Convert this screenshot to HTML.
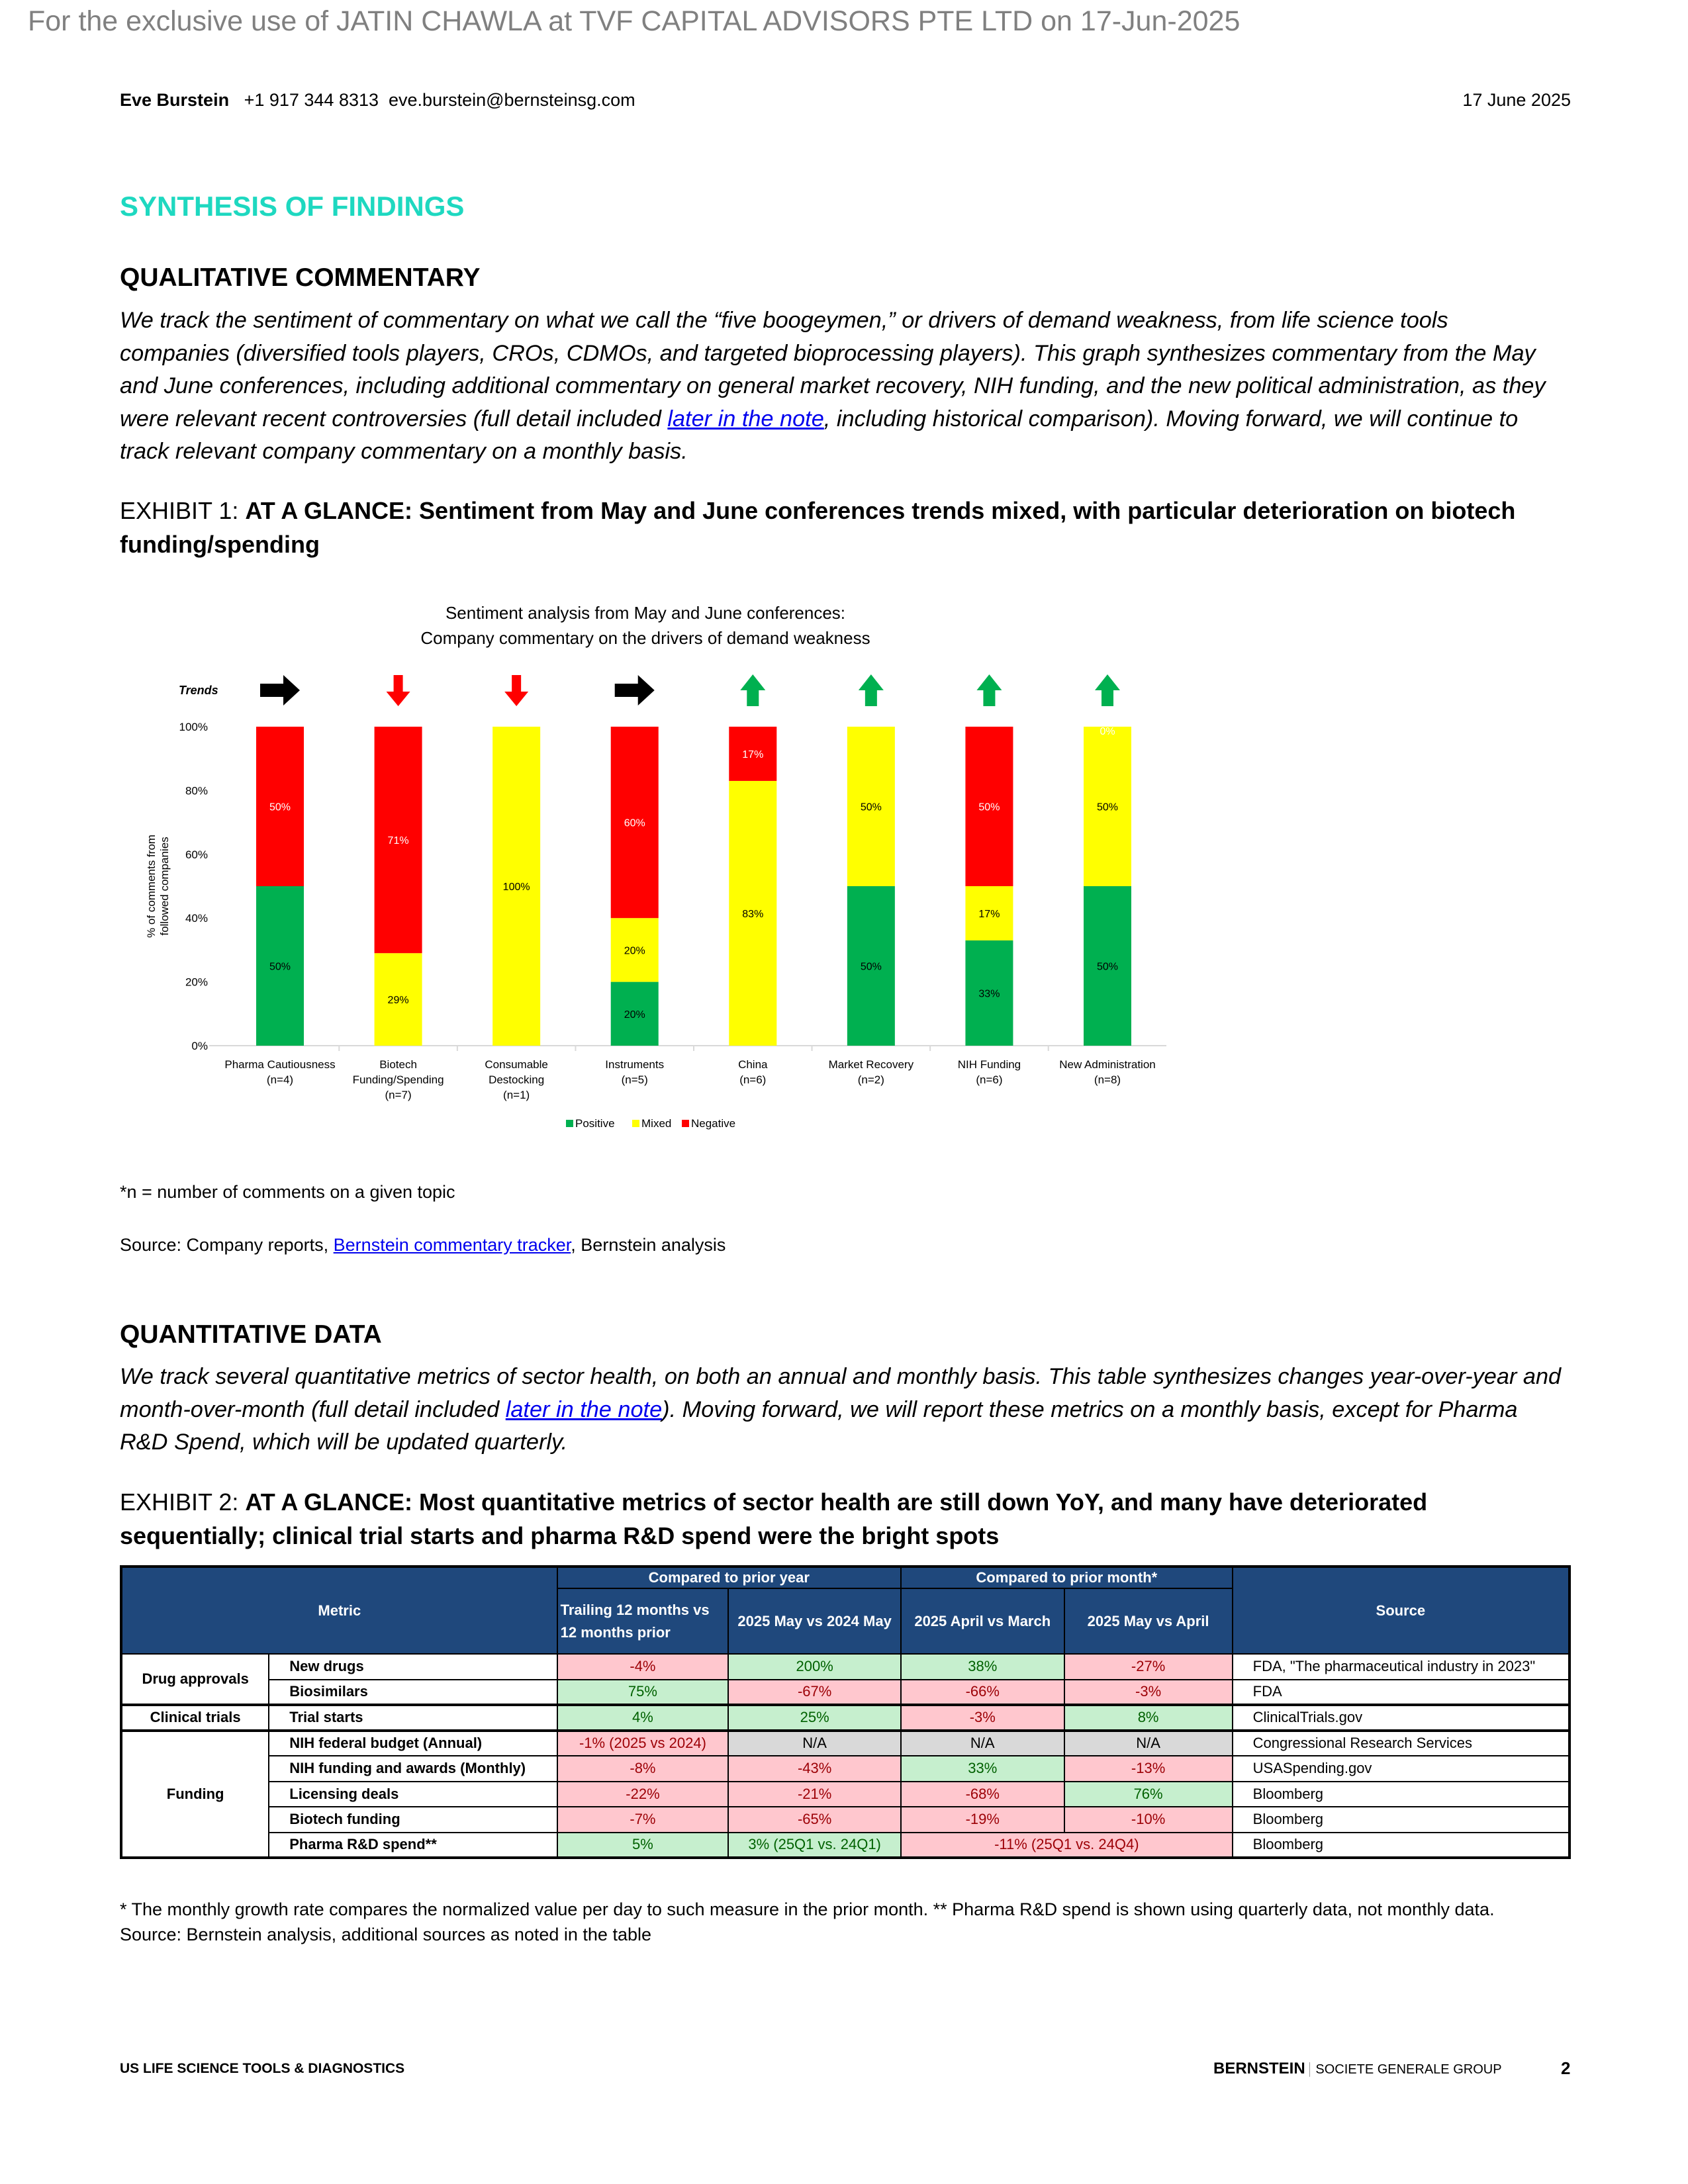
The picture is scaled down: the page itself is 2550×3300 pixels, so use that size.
<!DOCTYPE html>
<html><head><meta charset="utf-8">
<style>
*{margin:0;padding:0;box-sizing:border-box}
body{width:2550px;height:3300px;background:#fff;position:relative;font-family:"Liberation Sans",sans-serif;color:#000;overflow:hidden}
.a{position:absolute;white-space:nowrap}
.p{font-style:italic;font-size:34.3px;line-height:49.5px}
.lk{color:#0000ee;text-decoration:underline}
.h2{font-weight:bold;font-size:39px}
.ex{font-size:36px;line-height:51px}
table{border-collapse:collapse;font-size:22px}
td{border:2px solid #000;text-align:center;height:38.5px;padding:0 4px}
.hd{background:#1f487c;color:#fff;font-weight:bold}
.r{background:#ffc7ce;color:#9c0006}
.g{background:#c6efce;color:#006100}
.n{background:#d9d9d9;color:#000}
.l{text-align:left;font-weight:bold;padding-left:30px}
.s{text-align:left;padding-left:30px}
</style></head><body>
<div class="a" style="left:42px;top:8px;font-size:43px;color:#808080">For the exclusive use of JATIN CHAWLA at TVF CAPITAL ADVISORS PTE LTD on 17-Jun-2025</div>
<div class="a" style="left:181px;top:136px;font-size:27px"><b>Eve Burstein</b>&nbsp;&nbsp; +1 917 344 8313 &nbsp;eve.burstein@bernsteinsg.com</div>
<div class="a" style="right:177px;top:136px;font-size:27px">17 June 2025</div>
<div class="a" style="left:181px;top:288px;font-size:42px;font-weight:bold;color:#1ed8c0">SYNTHESIS OF FINDINGS</div>
<div class="a h2" style="left:181px;top:398px">QUALITATIVE COMMENTARY</div>
<div class="a p" style="left:181px;top:460px">We track the sentiment of commentary on what we call the “five boogeymen,” or drivers of demand weakness, from life science tools<br>companies (diversified tools players, CROs, CDMOs, and targeted bioprocessing players). This graph synthesizes commentary from the May<br>and June conferences, including additional commentary on general market recovery, NIH funding, and the new political administration, as they<br>were relevant recent controversies (full detail included <span class="lk">later in the note</span>, including historical comparison). Moving forward, we will continue to<br>track relevant company commentary on a monthly basis.</div>
<div class="a ex" style="left:181px;top:746px">EXHIBIT 1: <b>AT A GLANCE: Sentiment from May and June conferences trends mixed, with particular deterioration on biotech<br>funding/spending</b></div>

<svg id="chart" class="a" style="left:0;top:880px" width="2550" height="860" font-family="Liberation Sans, sans-serif"></svg>

<div class="a" style="left:181px;top:1786px;font-size:27px">*n = number of comments on a given topic</div>
<div class="a" style="left:181px;top:1866px;font-size:27px">Source: Company reports, <span class="lk">Bernstein commentary tracker</span>, Bernstein analysis</div>

<div class="a h2" style="left:181px;top:1995px">QUANTITATIVE DATA</div>
<div class="a p" style="left:181px;top:2056px">We track several quantitative metrics of sector health, on both an annual and monthly basis. This table synthesizes changes year-over-year and<br>month-over-month (full detail included <span class="lk">later in the note</span>). Moving forward, we will report these metrics on a monthly basis, except for Pharma<br>R&amp;D Spend, which will be updated quarterly.</div>
<div class="a ex" style="left:181px;top:2244px">EXHIBIT 2: <b>AT A GLANCE: Most quantitative metrics of sector health are still down YoY, and many have deteriorated<br>sequentially; clinical trial starts and pharma R&amp;D spend were the bright spots</b></div>

<table class="a" style="left:181px;top:2365px;width:2192px;border:4px solid #000">
<colgroup><col style="width:224px"><col style="width:436px"><col style="width:259px"><col style="width:261px"><col style="width:247px"><col style="width:255px"><col style="width:510px"></colgroup>
<tr style="height:33px"><td class="hd" colspan="2" rowspan="2" style="height:33px">Metric</td><td class="hd" colspan="2" style="height:33px">Compared to prior year</td><td class="hd" colspan="2" style="height:33px">Compared to prior month*</td><td class="hd" rowspan="2">Source</td></tr>
<tr style="height:99px"><td class="hd" style="text-align:left;line-height:34px">Trailing 12 months vs<br>12 months prior</td><td class="hd">2025 May vs 2024 May</td><td class="hd">2025 April vs March</td><td class="hd">2025 May vs April</td></tr>
<tr><td rowspan="2" style="font-weight:bold">Drug approvals</td><td class="l">New drugs</td><td class="r">-4%</td><td class="g">200%</td><td class="g">38%</td><td class="r">-27%</td><td class="s">FDA, "The pharmaceutical industry in 2023"</td></tr>
<tr><td class="l">Biosimilars</td><td class="g">75%</td><td class="r">-67%</td><td class="r">-66%</td><td class="r">-3%</td><td class="s">FDA</td></tr>
<tr style="border-top:4px solid #000"><td style="font-weight:bold">Clinical trials</td><td class="l">Trial starts</td><td class="g">4%</td><td class="g">25%</td><td class="r">-3%</td><td class="g">8%</td><td class="s">ClinicalTrials.gov</td></tr>
<tr style="border-top:4px solid #000"><td rowspan="5" style="font-weight:bold">Funding</td><td class="l">NIH federal budget (Annual)</td><td class="r">-1% (2025 vs 2024)</td><td class="n">N/A</td><td class="n">N/A</td><td class="n">N/A</td><td class="s">Congressional Research Services</td></tr>
<tr><td class="l">NIH funding and awards (Monthly)</td><td class="r">-8%</td><td class="r">-43%</td><td class="g">33%</td><td class="r">-13%</td><td class="s">USASpending.gov</td></tr>
<tr><td class="l">Licensing deals</td><td class="r">-22%</td><td class="r">-21%</td><td class="r">-68%</td><td class="g">76%</td><td class="s">Bloomberg</td></tr>
<tr><td class="l">Biotech funding</td><td class="r">-7%</td><td class="r">-65%</td><td class="r">-19%</td><td class="r">-10%</td><td class="s">Bloomberg</td></tr>
<tr><td class="l">Pharma R&amp;D spend**</td><td class="g">5%</td><td class="g">3% (25Q1 vs. 24Q1)</td><td class="r" colspan="2">-11% (25Q1 vs. 24Q4)</td><td class="s">Bloomberg</td></tr>
</table>

<div class="a" style="left:181px;top:2866px;font-size:27px;line-height:38px">* The monthly growth rate compares the normalized value per day to such measure in the prior month. ** Pharma R&amp;D spend is shown using quarterly data, not monthly data.<br>Source: Bernstein analysis, additional sources as noted in the table</div>

<div class="a" style="left:181px;top:3114px;font-size:21px;font-weight:bold">US LIFE SCIENCE TOOLS &amp; DIAGNOSTICS</div>
<div class="a" style="left:1833px;top:3112px;font-size:24px"><b>BERNSTEIN</b> <span style="border-left:1px solid #999;padding-left:8px;font-size:20px">SOCIETE GENERALE GROUP</span></div>
<div class="a" style="left:2358px;top:3110px;font-size:26px;font-weight:bold">2</div>

<script>
const categories=["Pharma Cautiousness|(n=4)","Biotech|Funding/Spending|(n=7)","Consumable|Destocking|(n=1)","Instruments|(n=5)","China|(n=6)","Market Recovery|(n=2)","NIH Funding|(n=6)","New Administration|(n=8)"];
const positive=[50,0,0,20,0,50,33,50];
const mixed=[0,29,100,20,83,50,17,50];
const negative=[50,71,0,60,17,0,50,0];
const trends=["right","down","down","right","up","up","up","up"];
const yTicks=[0,20,40,60,80,100];
const svg=document.getElementById('chart');
const NS='http://www.w3.org/2000/svg';
const X0=316,X1=1762,Y0=1580-880,Y100=1098-880;
const step=(1673-423)/(categories.length-1),bw=72;
const y=v=>Y0-(Y0-Y100)*v/100;
const cx=i=>423+step*i;
function mk(t,a){const e=document.createElementNS(NS,t);for(const k in a)e.setAttribute(k,a[k]);svg.appendChild(e);return e;}
let t=mk('text',{x:975,y:55,'text-anchor':'middle','font-size':26});t.textContent='Sentiment analysis from May and June conferences:';

t=mk('text',{x:975,y:93,'text-anchor':'middle','font-size':26});t.textContent='Company commentary on the drivers of demand weakness';

t=mk('text',{x:270,y:169,'font-size':18,'font-weight':'bold','font-style':'italic'});t.textContent='Trends';

const yt=mk('text',{'text-anchor':'middle','font-size':17});

yt.innerHTML='<tspan x="0" y="0">% of comments from</tspan><tspan x="0" y="20">followed companies</tspan>';
yt.setAttribute('transform','translate(234,'+((Y0+Y100)/2)+') rotate(-90)');
yTicks.forEach(v=>{const e=mk('text',{x:314,y:y(v)+6,'text-anchor':'end','font-size':17});e.textContent=v+'%';
});
const ax=mk('line',{x1:X0,x2:X1,y1:Y0,y2:Y0,stroke:'#d9d9d9','stroke-width':2});

const cols={p:'#00b050',m:'#ffff00',n:'#ff0000'};
categories.forEach((c,i)=>{
 let base=0;
 [['p',positive[i],'#000'],['m',mixed[i],'#000'],['n',negative[i],'#fff']].forEach(([k,v,tc])=>{
  if(v>0||(i===7&&k==='n')){
   const r=mk('rect',{x:cx(i)-bw/2,y:y(base+v),width:bw,height:y(base)-y(base+v),fill:cols[k]});
   
   const l=mk('text',{x:cx(i),y:(y(base)+y(base+v))/2+6,'text-anchor':'middle','font-size':16,fill:(i===7&&k==='n')?'#fff':tc});
   l.textContent=v+'%';
   if(v===0)l.setAttribute('y',y(100)+12);
  }
  base+=v;});
 if(i>0){const tx=(cx(i)+cx(i-1))/2;const tk=mk('line',{x1:tx,x2:tx,y1:Y0,y2:Y0+8,stroke:'#d9d9d9','stroke-width':2});
  }
 c.split('|').forEach((s,j)=>{const e=mk('text',{x:cx(i),y:Y0+34+j*23,'text-anchor':'middle','font-size':17});e.textContent=s;
  });
 const d=trends[i],X=cx(i),Yc=1043-880;let pts;
 if(d==='right')pts=[[X-30,Yc-10],[X+5,Yc-10],[X+5,Yc-23],[X+30,Yc],[X+5,Yc+23],[X+5,Yc+10],[X-30,Yc+10]];
 else if(d==='down')pts=[[X-7,Yc-23],[X+7,Yc-23],[X+7,Yc+2],[X+18,Yc+2],[X,Yc+24],[X-18,Yc+2],[X-7,Yc+2]];
 else pts=[[X-9,Yc+24],[X+9,Yc+24],[X+9,Yc],[X+19,Yc],[X,Yc-24],[X-19,Yc],[X-9,Yc]];
 const a=mk('polygon',{points:pts.map(p=>p.join(',')).join(' '),fill:d==='right'?'#000':d==='down'?'#ff0000':'#00b050'});
 
});
[['Positive','#00b050',855],['Mixed','#ffff00',955],['Negative','#ff0000',1030]].forEach(([n,c,x])=>{
 const r=mk('rect',{x:x,y:1692-880,width:11,height:11,fill:c});
 const e=mk('text',{x:x+14,y:1703-880,'font-size':17});e.textContent=n;
});
</script>
</body></html>
